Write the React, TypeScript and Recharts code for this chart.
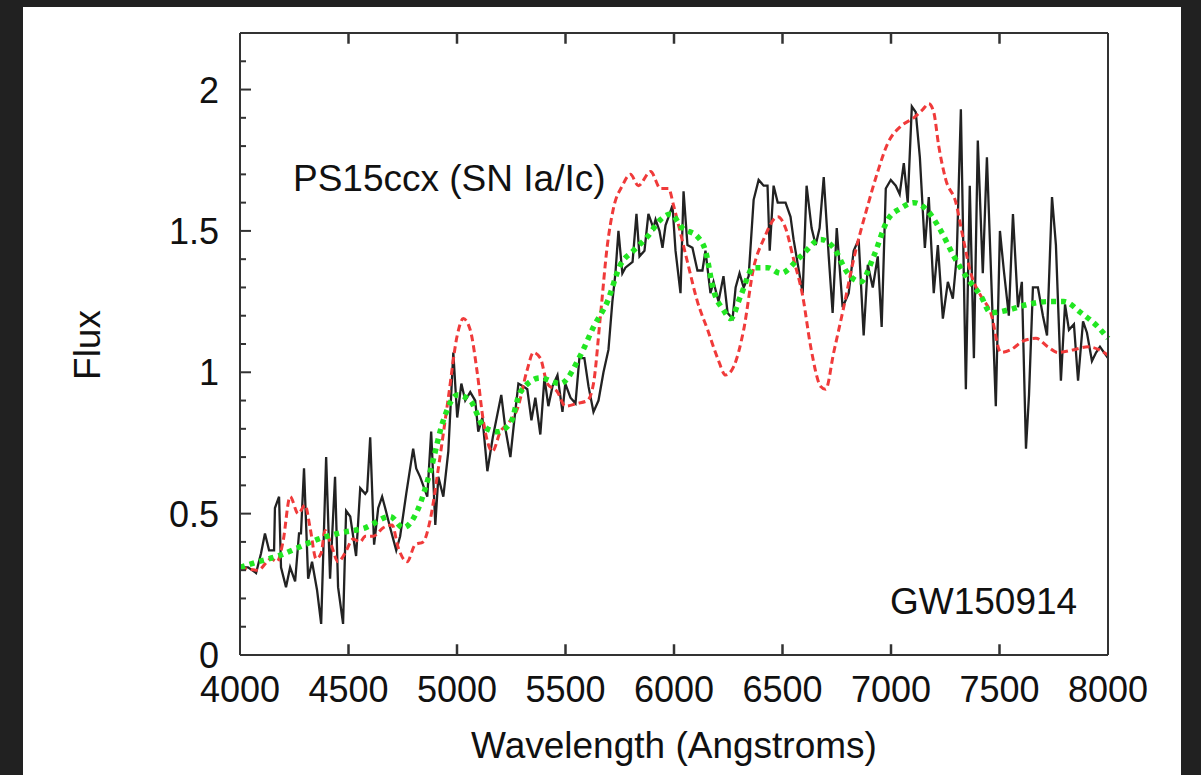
import React from "react";
import { LineChart, Line, XAxis, YAxis, ReferenceLine } from "recharts";

// observed spectrum (black)
const specWave = [
  4000, 4037, 4074, 4097, 4115, 4134, 4157, 4161, 4180, 4189, 4212, 4231, 4254, 4272, 4281, 4295,
  4314, 4332, 4355, 4374, 4397, 4415, 4438, 4452, 4475, 4489, 4508, 4535, 4554, 4577, 4586, 4600,
  4618, 4637, 4655, 4669, 4692, 4720, 4738, 4766, 4798, 4812, 4830, 4863, 4881, 4900, 4914, 4937,
  4960, 4983, 5001, 5020, 5038, 5061, 5084, 5098, 5117, 5140, 5165, 5204, 5223, 5246, 5264, 5283,
  5306, 5324, 5343, 5361, 5384, 5403, 5421, 5440, 5463, 5486, 5499, 5523, 5546, 5564, 5587, 5606,
  5629, 5652, 5675, 5698, 5716, 5730, 5744, 5762, 5776, 5809, 5827, 5841, 5864, 5882, 5905, 5915,
  5933, 5947, 5961, 5975, 5993, 6007, 6030, 6044, 6062, 6085, 6108, 6131, 6145, 6168, 6182, 6205,
  6228, 6247, 6270, 6284, 6302, 6321, 6344, 6367, 6390, 6413, 6431, 6441, 6459, 6478, 6514, 6537,
  6551, 6593, 6611, 6634, 6653, 6671, 6690, 6713, 6731, 6750, 6777, 6805, 6828, 6851, 6874, 6893,
  6916, 6939, 6957, 6976, 6999, 7022, 7040, 7059, 7077, 7096, 7114, 7133, 7156, 7174, 7197, 7216,
  7239, 7262, 7285, 7303, 7322, 7345, 7363, 7382, 7400, 7423, 7442, 7483, 7502, 7520, 7543, 7562,
  7585, 7603, 7622, 7636, 7654, 7677, 7700, 7719, 7742, 7760, 7783, 7802, 7820, 7843, 7862, 7885,
  7903, 7926, 7945, 7963, 7991, 8000,
];
const specFlux = [
  0.31, 0.31, 0.29, 0.36, 0.43, 0.37, 0.37, 0.52, 0.56, 0.31, 0.24, 0.31, 0.26, 0.43, 0.43, 0.66,
  0.27, 0.33, 0.23, 0.11, 0.7, 0.27, 0.63, 0.24, 0.11, 0.51, 0.49, 0.35, 0.59, 0.57, 0.58, 0.77,
  0.39, 0.52, 0.56, 0.52, 0.45, 0.37, 0.42, 0.57, 0.73, 0.66, 0.63, 0.56, 0.79, 0.46, 0.63, 0.56,
  0.72, 1.07, 0.84, 0.96, 0.9, 0.93, 0.9, 0.79, 0.84, 0.65, 0.77, 0.92, 0.8, 0.7, 0.83, 0.96,
  0.95, 0.94, 0.83, 0.91, 0.78, 0.98, 0.88, 0.95, 0.99, 0.86, 0.96, 0.91, 0.89, 1.05, 1.05, 0.95,
  0.86, 0.9, 1.0, 1.08, 1.25, 1.35, 1.5, 1.35, 1.37, 1.39, 1.56, 1.41, 1.43, 1.56, 1.51, 1.54,
  1.5, 1.44, 1.52, 1.55, 1.59, 1.43, 1.28, 1.64, 1.45, 1.44, 1.36, 1.36, 1.43, 1.28, 1.32, 1.25,
  1.34, 1.21, 1.19, 1.3, 1.35, 1.3, 1.34, 1.61, 1.68, 1.66, 1.66, 1.43, 1.66, 1.6, 1.6, 1.55,
  1.47, 1.28, 1.66, 1.51, 1.45, 1.51, 1.69, 1.41, 1.21, 1.51, 1.23, 1.28, 1.43, 1.47, 1.13, 1.38,
  1.3, 1.41, 1.16, 1.65, 1.68, 1.66, 1.63, 1.74, 1.6, 1.94, 1.92, 1.76, 1.44, 1.62, 1.28, 1.45,
  1.19, 1.32, 1.26, 1.41, 1.93, 0.94, 1.66, 1.05, 1.82, 1.35, 1.76, 0.88, 1.5, 1.36, 1.2, 1.56,
  1.23, 1.32, 0.73, 0.92, 1.3, 1.3, 1.2, 1.13, 1.62, 1.45, 0.97, 1.24, 1.15, 1.17, 0.97, 1.18,
  1.14, 1.04, 1.07, 1.09, 1.06, 1.05,
];

// SN Ia template (red dashed)
const templWave = [
  4000, 4083, 4143, 4171, 4198, 4231, 4268, 4300, 4323, 4351, 4374, 4392, 4420, 4452, 4484, 4521,
  4554, 4577, 4614, 4660, 4701, 4729, 4770, 4807, 4844, 4877, 4914, 4960, 5001, 5029, 5061, 5093,
  5121, 5163, 5200, 5236, 5278, 5324, 5352, 5384, 5416, 5463, 5499, 5555, 5601, 5629, 5661, 5693,
  5721, 5762, 5799, 5836, 5892, 5938, 5975, 5998, 6021, 6062, 6108, 6155, 6201, 6238, 6275, 6321,
  6367, 6413, 6478, 6514, 6551, 6593, 6630, 6676, 6699, 6736, 6782, 6828, 6893, 6939, 6985, 7045,
  7105, 7147, 7174, 7197, 7220, 7253, 7299, 7331, 7368, 7414, 7460, 7506, 7553, 7608, 7668, 7723,
  7769, 7843, 7908, 7958, 8000,
];
const templFlux = [
  0.31, 0.3, 0.34, 0.33, 0.4, 0.56, 0.5, 0.53, 0.45, 0.34, 0.36, 0.44, 0.39, 0.33, 0.36, 0.41,
  0.4, 0.42, 0.42, 0.45, 0.46, 0.38, 0.33, 0.39, 0.4, 0.48, 0.66, 0.91, 1.13, 1.19, 1.15, 1.0,
  0.83, 0.72, 0.79, 0.82, 0.87, 1.01, 1.07, 1.05, 0.96, 0.93, 0.88, 0.89, 0.9, 0.96, 1.2, 1.45,
  1.58, 1.66, 1.7, 1.66, 1.71, 1.65, 1.65, 1.59, 1.52, 1.39, 1.25, 1.15, 1.05, 0.99, 1.02, 1.15,
  1.37, 1.47, 1.55, 1.51, 1.4, 1.27, 1.09, 0.95, 0.94, 1.07, 1.23, 1.4, 1.59, 1.71, 1.81, 1.87,
  1.9, 1.93, 1.95, 1.92, 1.8, 1.68, 1.6, 1.48, 1.35, 1.27, 1.21, 1.07, 1.08, 1.11, 1.12, 1.09,
  1.07, 1.08, 1.09, 1.08, 1.06,
];

// smoothed spectrum (green dotted)
const smoothWave = [
  4000, 4083, 4175, 4268, 4360, 4452, 4577, 4692, 4752, 4817, 4877, 4937, 5001, 5061, 5121, 5186,
  5246, 5292, 5384, 5476, 5569, 5629, 5693, 5753, 5813, 5878, 5938, 5984, 6039, 6108, 6145, 6182,
  6228, 6261, 6307, 6367, 6431, 6491, 6584, 6676, 6736, 6801, 6861, 6920, 6985, 7045, 7105, 7170,
  7230, 7290, 7354, 7414, 7460, 7539, 7631, 7723, 7797, 7876, 7954, 8000,
];
const smoothFlux = [
  0.31, 0.33, 0.35, 0.38, 0.41, 0.43, 0.45, 0.49, 0.45, 0.51, 0.65, 0.83, 0.92, 0.9, 0.81, 0.79,
  0.82, 0.93, 0.98, 0.96, 1.06, 1.16, 1.25, 1.38, 1.43, 1.48, 1.54, 1.56, 1.51, 1.48, 1.43, 1.29,
  1.22, 1.19, 1.27, 1.37, 1.37, 1.35, 1.41, 1.47, 1.44, 1.35, 1.32, 1.41, 1.54, 1.58, 1.6, 1.57,
  1.5, 1.41, 1.33, 1.27, 1.21, 1.22, 1.24, 1.25, 1.25, 1.21, 1.16, 1.12,
];

const xTicks = [4000, 4500, 5000, 5500, 6000, 6500, 7000, 7500, 8000];
const yTicks = [
  0, 0.1, 0.2, 0.3, 0.4, 0.5, 0.6, 0.7, 0.8, 0.9, 1, 1.1, 1.2, 1.3, 1.4, 1.5, 1.6, 1.7, 1.8, 1.9,
  2, 2.1,
];
const yLabels = [0, 0.5, 1, 1.5, 2];

const spec = specWave.map((w, i) => ({ wave: w, flux: specFlux[i] }));
const templ = templWave.map((w, i) => ({ wave: w, flux: templFlux[i] }));
const smooth = smoothWave.map((w, i) => ({ wave: w, flux: smoothFlux[i] }));

const W = 1201;
const H = 775;
const PLOT_LEFT = 240;
const PLOT_RIGHT = 1108;
const PLOT_BOTTOM = 655;
const Y_MAX = 2.2;
const X_TICK_LEN = 0.038; // in flux units, about 11px
const FONT = "'Liberation Sans', Arial, Helvetica, sans-serif";
const AXIS = "#333";

const isMajor = (v: number) => yLabels.some((l) => Math.abs(l - v) < 1e-6);

function LeftTick(props: any) {
  const { y, payload } = props;
  const v = payload.value;
  const major = isMajor(v);
  return (
    <g>
      <line x1={PLOT_LEFT} x2={PLOT_LEFT + (major ? 11 : 6)} y1={y} y2={y} stroke={AXIS} strokeWidth={2} />
      {major && (
        <text x={219} y={y} dy="0.36em" textAnchor="end" fontSize={36} fontFamily={FONT} fill="#111">
          {String(v)}
        </text>
      )}
    </g>
  );
}

function RightTick(props: any) {
  const { y, payload } = props;
  const major = isMajor(payload.value);
  return (
    <line x1={PLOT_RIGHT} x2={PLOT_RIGHT - (major ? 9 : 7)} y1={y} y2={y} stroke={AXIS} strokeWidth={2} />
  );
}

function BottomTick(props: any) {
  const { x, payload } = props;
  return (
    <text x={x} y={PLOT_BOTTOM + 47} textAnchor="middle" fontSize={36} fontFamily={FONT} fill="#111">
      {payload.value}
    </text>
  );
}

export default function App() {
  return (
    <div style={{ position: "fixed", left: 0, top: 0, width: W, height: H, background: "#212121" }}>
      <div style={{ position: "absolute", left: 23, top: 7, width: 1158, height: H - 7, background: "#fff" }} />
      <div style={{ position: "absolute", left: 0, top: 0 }}>
        <LineChart width={W} height={H} margin={{ top: 32, right: 92, bottom: 60, left: 180 }}>
          <XAxis
            xAxisId="b"
            dataKey="wave"
            type="number"
            domain={[4000, 8000]}
            ticks={xTicks}
            interval={0}
            height={60}
            allowDuplicatedCategory={false}
            tickLine={false}
            stroke={AXIS}
            strokeWidth={2}
            tick={<BottomTick />}
          />
          <XAxis
            xAxisId="t"
            orientation="top"
            dataKey="wave"
            type="number"
            domain={[4000, 8000]}
            ticks={xTicks}
            interval={0}
            height={1}
            allowDuplicatedCategory={false}
            tickLine={false}
            stroke={AXIS}
            strokeWidth={2}
            tick={false}
          />
          <YAxis
            yAxisId="l"
            type="number"
            domain={[0, Y_MAX]}
            ticks={yTicks}
            interval={0}
            width={60}
            tickLine={false}
            stroke={AXIS}
            strokeWidth={2}
            tick={<LeftTick />}
          />
          <YAxis
            yAxisId="r"
            orientation="right"
            type="number"
            domain={[0, Y_MAX]}
            ticks={yTicks}
            interval={0}
            width={1}
            tickLine={false}
            stroke={AXIS}
            strokeWidth={2}
            tick={<RightTick />}
          />
          {xTicks.slice(1, -1).map((t) => (
            <ReferenceLine
              key={"b" + t}
              xAxisId="b"
              yAxisId="l"
              segment={[{ x: t, y: 0 }, { x: t, y: X_TICK_LEN }]}
              stroke={AXIS}
              strokeWidth={2.5}
            />
          ))}
          {xTicks.slice(1, -1).map((t) => (
            <ReferenceLine
              key={"t" + t}
              xAxisId="b"
              yAxisId="l"
              segment={[{ x: t, y: Y_MAX - X_TICK_LEN }, { x: t, y: Y_MAX }]}
              stroke={AXIS}
              strokeWidth={2.5}
            />
          ))}
          <Line
            xAxisId="b"
            yAxisId="l"
            data={spec}
            dataKey="flux"
            type="linear"
            stroke="#222"
            strokeWidth={2.3}
            dot={false}
            isAnimationActive={false}
          />
          <Line
            xAxisId="b"
            yAxisId="l"
            data={templ}
            dataKey="flux"
            type="monotone"
            stroke="#f03a3a"
            strokeWidth={3}
            strokeDasharray="7 4"
            dot={false}
            isAnimationActive={false}
          />
          <Line
            xAxisId="b"
            yAxisId="l"
            data={smooth}
            dataKey="flux"
            type="monotone"
            stroke="#22e622"
            strokeWidth={5.5}
            strokeDasharray="5 5"
            dot={false}
            isAnimationActive={false}
          />
        </LineChart>
      </div>
      <svg width={W} height={H} style={{ position: "absolute", left: 0, top: 0, pointerEvents: "none" }}>
        <g fontFamily={FONT} fontSize={37} fill="#111">
          <text x={293} y={191}>PS15ccx (SN Ia/Ic)</text>
          <text x={890} y={614}>GW150914</text>
          <text x={674} y={758} textAnchor="middle">Wavelength (Angstroms)</text>
          <text x={100} y={345} textAnchor="middle" transform="rotate(-90 100 345)">Flux</text>
        </g>
      </svg>
    </div>
  );
}
